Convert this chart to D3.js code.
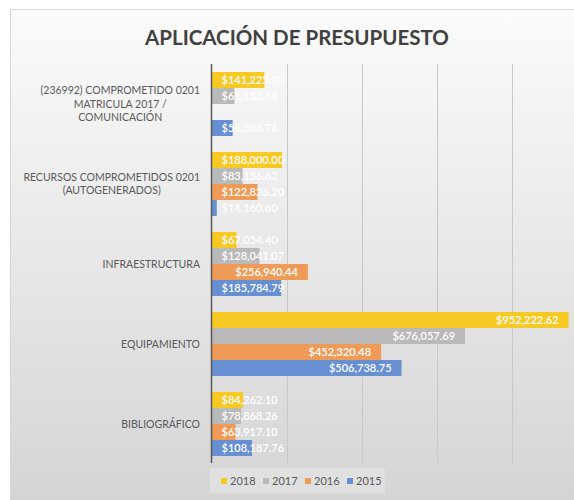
<!DOCTYPE html>
<html>
<head>
<meta charset="utf-8">
<script src="https://cdn.jsdelivr.net/npm/d3@7"></script>
<style>
  body { margin: 0; background: #fff; }
  svg { display: block; font-family: Lato, "Open Sans", sans-serif; }
</style>
</head>
<body>
<svg width="574" height="500"></svg>
<script>
const categories = [
  ["(236992) COMPROMETIDO 0201", "MATRICULA 2017 /", "COMUNICACIÓN"],
  ["RECURSOS COMPROMETIDOS 0201", "(AUTOGENERADOS)"],
  ["INFRAESTRUCTURA"],
  ["EQUIPAMIENTO"],
  ["BIBLIOGRÁFICO"]
];
const series = ["2018", "2017", "2016", "2015"];
const values2018 = [141225.00, 188000.00, 67054.40, 952222.62, 84262.10];
const values2017 = [61153.14, 83136.62, 128041.07, 676057.69, 78868.26];
const values2016 = [null, 122826.20, 256940.44, 452320.48, 63917.10];
const values2015 = [56388.76, 14160.60, 185784.79, 506738.75, 108187.76];
const colors = ["#f9c923", "#b9b9b9", "#ef9a56", "#6690d2"];
const ticks = [0, 200000, 400000, 600000, 800000, 1000000];

const svg = d3.select("svg"),
      width = +svg.attr("width"),
      height = +svg.attr("height");

// fondo degradado
const defs = svg.append("defs");
const grad = defs.append("linearGradient").attr("id", "bg")
  .attr("x1", 0).attr("y1", 0).attr("x2", 0).attr("y2", 1);
grad.append("stop").attr("offset", "0%").attr("stop-color", "#fbfbfb");
grad.append("stop").attr("offset", "100%").attr("stop-color", "#d2d2d2");

svg.append("rect")
  .attr("x", 10.5).attr("y", 9.5)
  .attr("width", 600).attr("height", 520)
  .attr("fill", "url(#bg)")
  .attr("stroke", "#d6d6d6");

svg.append("text")
  .attr("x", 297).attr("y", 45)
  .attr("text-anchor", "middle")
  .attr("fill", "#404040")
  .attr("font-size", 20.5)
  .attr("font-weight", "bold")
  .text("APLICACIÓN DE PRESUPUESTO");

const plotTop = 64, plotBottom = 464;
const x = d3.scaleLinear().domain([0, 1000000]).range([211.5, 586.5]);
const y0 = d3.scaleBand().domain(d3.range(categories.length)).range([plotTop, plotBottom]);
const y1 = d3.scaleBand().domain(series).range([8, y0.bandwidth() - 8]);

// rejilla
svg.append("g").selectAll("line").data(ticks.slice(1)).join("line")
  .attr("x1", d => Math.round(x(d)) + 0.5).attr("x2", d => Math.round(x(d)) + 0.5)
  .attr("y1", plotTop).attr("y2", plotBottom - 1)
  .attr("stroke", "#c8c8c8");

const table = categories.map((c, i) => ({
  i,
  bars: [values2018[i], values2017[i], values2016[i], values2015[i]]
    .map((v, k) => ({ key: series[k], value: v, color: colors[k] }))
    .filter(d => d.value != null)
}));

const groups = svg.append("g").selectAll("g").data(table).join("g")
  .attr("transform", d => `translate(0,${y0(d.i)})`);

groups.selectAll("rect").data(d => d.bars).join("rect")
  .attr("x", x(0))
  .attr("y", d => y1(d.key))
  .attr("height", y1.bandwidth())
  .attr("width", d => x(d.value) - x(0))
  .attr("fill", d => d.color);

const fmt = d3.format("$,.2f");
groups.selectAll("text").data(d => d.bars).join("text")
  .attr("y", d => y1(d.key) + y1.bandwidth() / 2)
  .attr("dy", "0.35em")
  .attr("fill", "#fff")
  .attr("font-size", 11)
  .attr("font-weight", 600)
  .attr("text-anchor", "end")
  .text(d => fmt(d.value))
  .attr("x", function(d) {
    const w = this.getComputedTextLength();
    return Math.max(x(d.value) - 10, x(0) + 10 + w);
  });

// eje
svg.append("line")
  .attr("x1", 211.5).attr("x2", 211.5)
  .attr("y1", plotTop).attr("y2", plotBottom - 1)
  .attr("stroke", "#595959").attr("stroke-width", 1.5);

// etiquetas de categoría
const lineH = 13.5;
svg.append("g").selectAll("text").data(categories).join("text")
  .attr("fill", "#595959")
  .attr("font-size", 10.5)
  .attr("text-anchor", "middle")
  .each(function(lines, i) {
    const t = d3.select(this);
    const cy = y0(i) + y0.bandwidth() / 2;
    // ancho máximo para alinear el bloque a la derecha
    const tmp = t.append("tspan").text(lines.reduce((a, b) => a.length > b.length ? a : b));
    const w = tmp.node().getComputedTextLength();
    tmp.remove();
    const cx = 200 - w / 2;
    lines.forEach((l, j) => {
      t.append("tspan")
        .attr("x", cx)
        .attr("y", cy + (j - (lines.length - 1) / 2) * lineH)
        .attr("dy", "0.35em")
        .text(l);
    });
  });

// leyenda
const legend = svg.append("g");
legend.append("rect")
  .attr("x", 210).attr("y", 468).attr("width", 175).attr("height", 25)
  .attr("fill", "#fff").attr("fill-opacity", 0.25);
const items = legend.selectAll("g").data(series).join("g")
  .attr("transform", (d, i) => `translate(${221 + i * 42},481)`);
items.append("rect")
  .attr("x", 0).attr("y", -3).attr("width", 6).attr("height", 6)
  .attr("fill", (d, i) => colors[i]);
items.append("text")
  .attr("x", 9).attr("dy", "0.35em")
  .attr("fill", "#595959")
  .attr("font-size", 11)
  .text(d => d);
</script>
</body>
</html>
